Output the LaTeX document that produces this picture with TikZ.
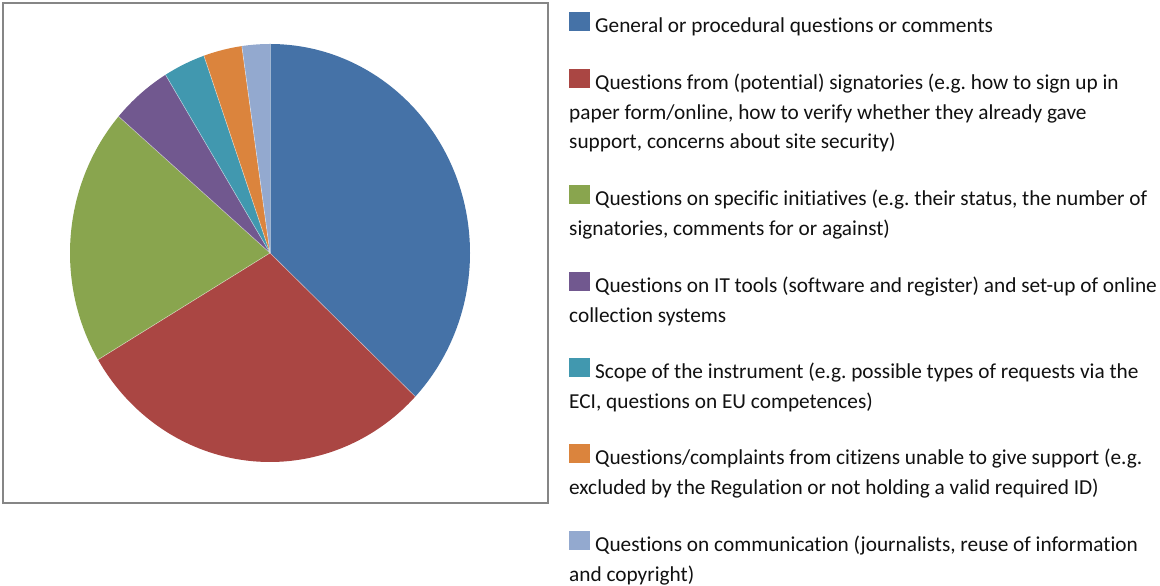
\documentclass[tikz,border=0pt]{standalone}
\usepackage{fontspec}
\setmainfont[Ligatures={NoCommon}]{Carlito}
\usetikzlibrary{calc}
\definecolor{cBlue}{HTML}{4572A7}
\definecolor{cRed}{HTML}{AA4643}
\definecolor{cGreen}{HTML}{89A54E}
\definecolor{cPurple}{HTML}{71588F}
\definecolor{cTeal}{HTML}{4198AF}
\definecolor{cOrange}{HTML}{DB843D}
\definecolor{cLight}{HTML}{93A9CF}
\definecolor{cFrame}{HTML}{868686}
\definecolor{cText}{HTML}{111111}
\begin{document}
\begin{tikzpicture}[x=1pt,y=1pt,
  slice/.style={draw=white, draw opacity=0.5, line width=0.6pt, line join=round},
  legtext/.style={anchor=base west, inner sep=0pt, text=cText, font=\fontsize{21.3}{25}\selectfont\frenchspacing},
  legbox/.style={inner sep=0pt, minimum width=21pt, minimum height=19pt, anchor=south west}]
\useasboundingbox (0,0) rectangle (1160,586);
\fill[white] (0,0) rectangle (1160,586);
\draw[cFrame, line width=1.5pt] (3,83) rectangle (548,583);
\coordinate (c) at (270,333);
\newcommand{\pieslice}[3]{%
  \fill[#3] (c) -- ($(c)+(#1:200pt and 209pt)$) arc[start angle=#1, end angle=#2, x radius=200pt, y radius=209pt] -- cycle;
  \draw[slice] (c) -- ($(c)+(#1:200pt and 209pt)$);}
\pieslice{90}{-43.4}{cBlue}
\pieslice{-43.4}{-149.3}{cRed}
\pieslice{210.7}{139.2}{cGreen}
\pieslice{139.2}{121.5}{cPurple}
\pieslice{121.5}{109.3}{cTeal}
\pieslice{109.3}{98.1}{cOrange}
\pieslice{98.1}{90}{cLight}
% legend
\newcommand{\legitem}[4]{%
  \node[legbox, fill=#2] (sq#1) at (569,#3+1.5) {};
  \node[legtext] (t#1) at (595,#3) {#4};}
\newcommand{\legline}[3]{\node[legtext] (#1) at (569,#2) {#3};}
\legitem{a}{cBlue}{553}{General or procedural questions or comments}
\legitem{b}{cRed}{496}{Questions from (potential) signatories (e.g. how to sign up in}
\legline{b2}{466.5}{paper form/online, how to verify whether they already gave}
\legline{b3}{437}{support, concerns about site security)}
\legitem{c}{cGreen}{380}{Questions on specific initiatives (e.g. their status, the number of}
\legline{c2}{350.5}{signatories, comments for or against)}
\legitem{d}{cPurple}{293}{Questions on IT tools (software and register) and set-up of online}
\legline{d2}{263.5}{collection systems}
\legitem{e}{cTeal}{207}{Scope of the instrument (e.g. possible types of requests via the}
\legline{e2}{177.5}{ECI, questions on EU competences)}
\legitem{f}{cOrange}{121}{Questions/complaints from citizens unable to give support (e.g.}
\legline{f2}{91.5}{excluded by the Regulation or not holding a valid required ID)}
\legitem{g}{cLight}{34}{Questions on communication (journalists, reuse of information}
\legline{g2}{4.5}{and copyright)}
\end{tikzpicture}
\end{document}
